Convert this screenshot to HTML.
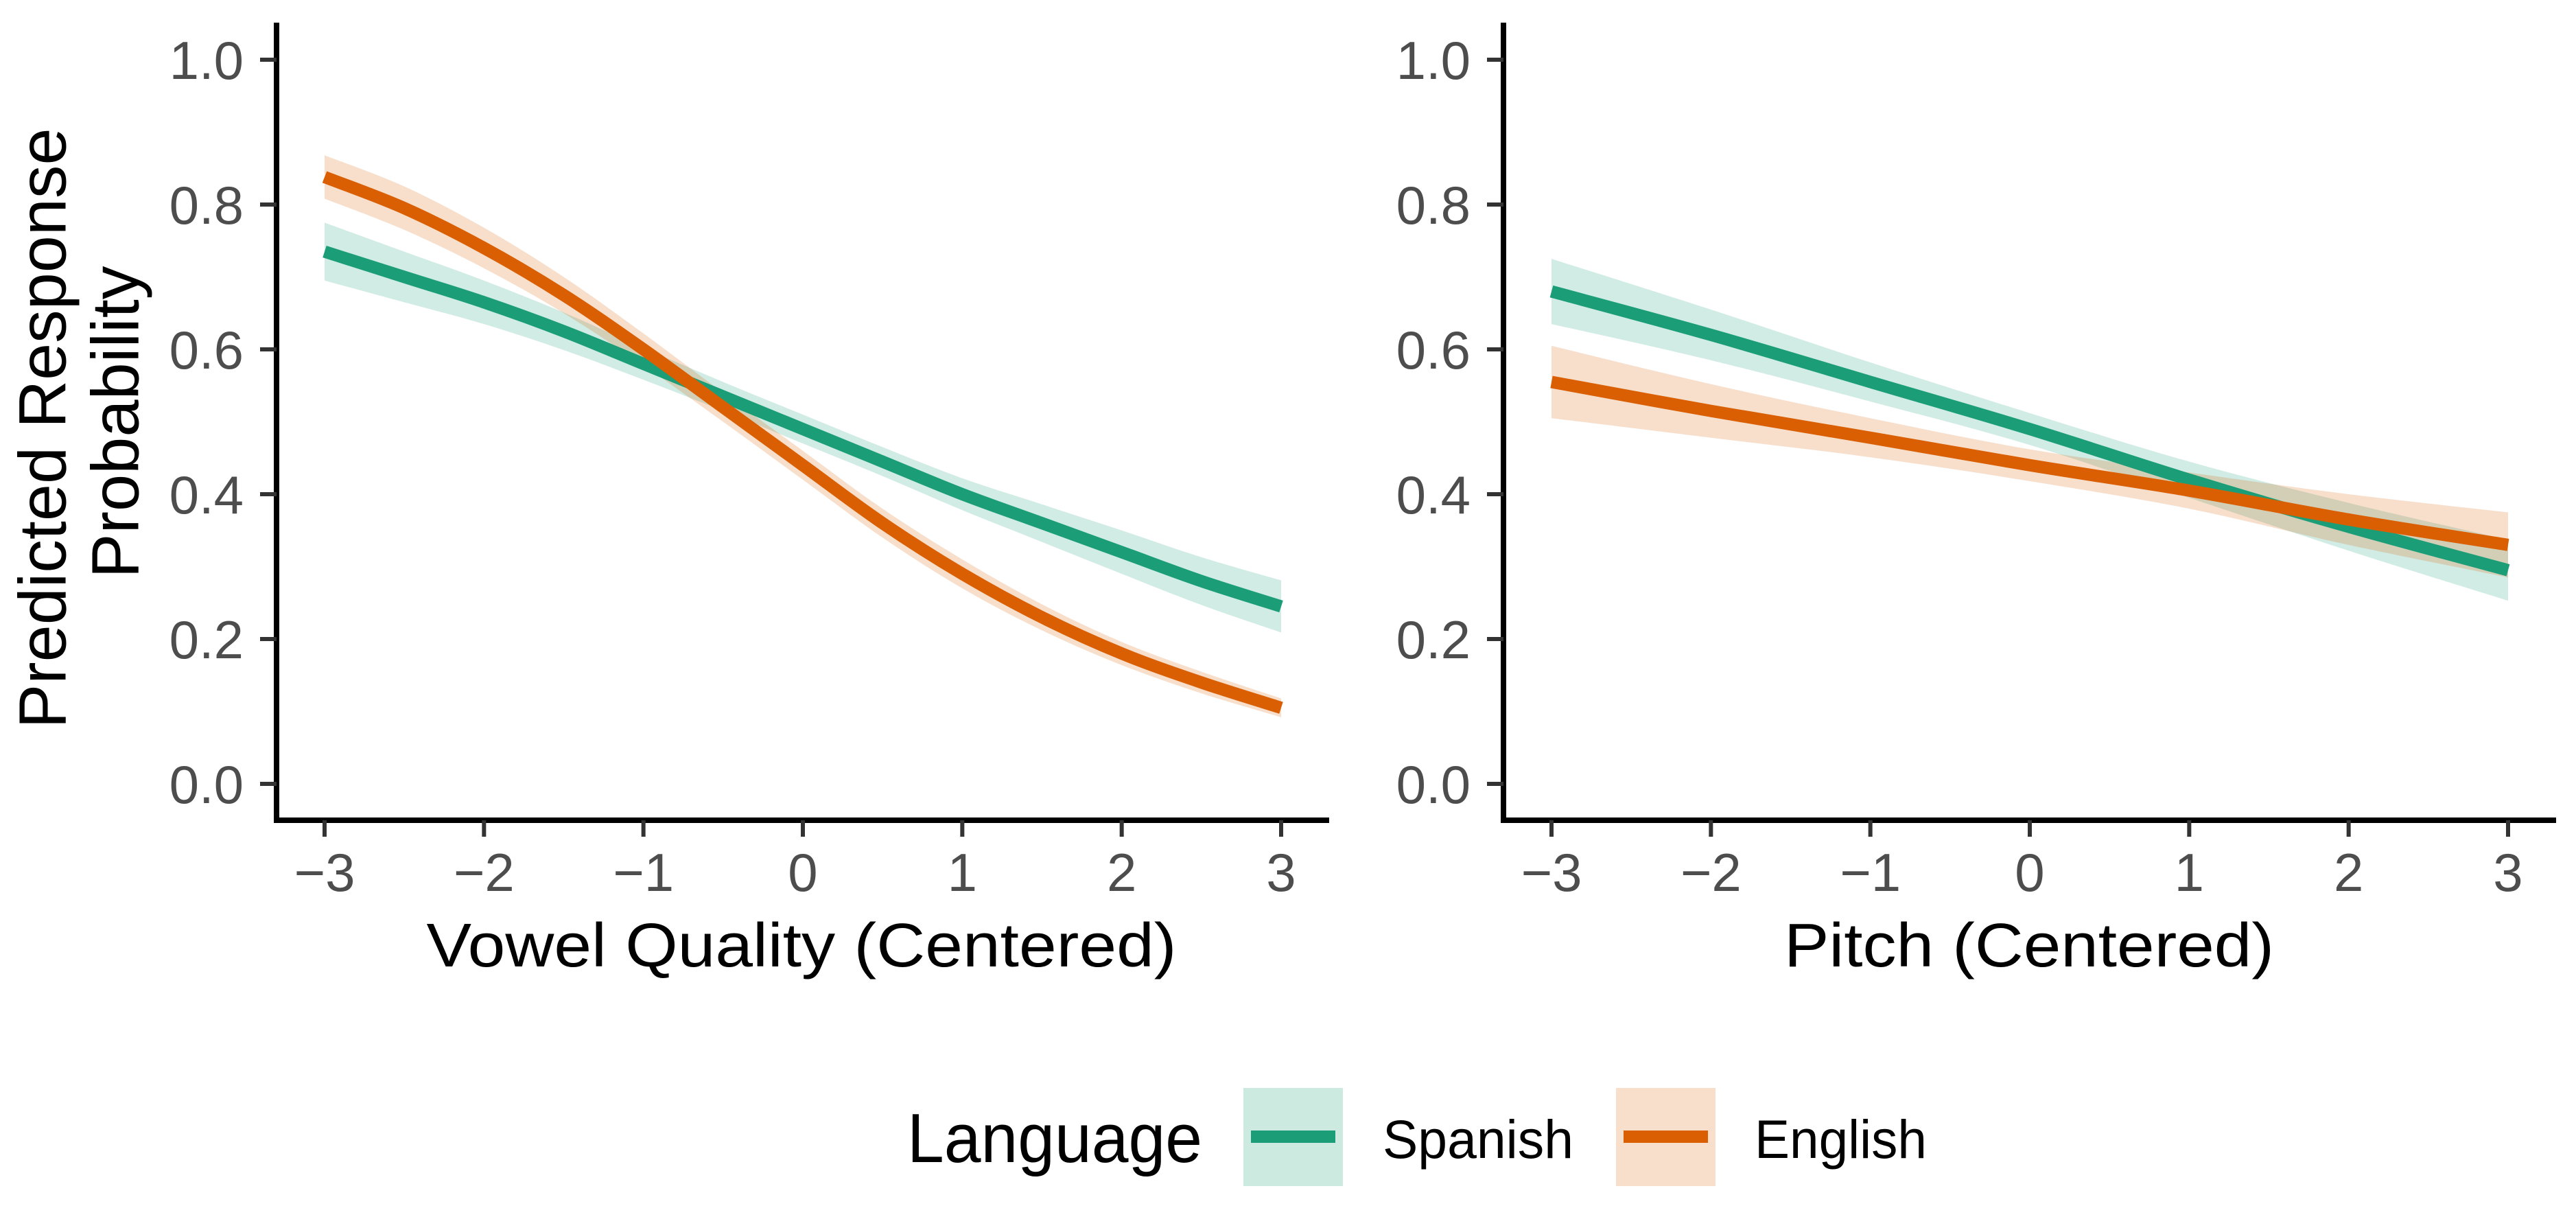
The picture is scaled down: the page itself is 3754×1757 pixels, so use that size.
<!DOCTYPE html>
<html><head><meta charset="utf-8"><style>
html,body{margin:0;padding:0;background:#fff}
svg{display:block}
text{font-family:"Liberation Sans",sans-serif}
</style></head><body>
<svg id="chart" width="3754" height="1757" viewBox="0 0 3754 1757" xmlns="http://www.w3.org/2000/svg">
<g id="plots"></g>
<g>
<text x="62" y="624" font-size="97" text-anchor="middle" dominant-baseline="central" textLength="875" lengthAdjust="spacingAndGlyphs" transform="rotate(-90 62 624)">Predicted Response</text>
<text x="168" y="615" font-size="97" text-anchor="middle" dominant-baseline="central" textLength="455" lengthAdjust="spacingAndGlyphs" transform="rotate(-90 168 615)">Probability</text>
</g>
<g>
<text x="1322" y="1693" font-size="101" textLength="430" lengthAdjust="spacingAndGlyphs">Language</text>
<g>
<rect x="1812" y="1585" width="145" height="143" fill="#1b9e77" fill-opacity="0.22"/>
<line x1="1823" y1="1656" x2="1946" y2="1656" stroke="#1b9e77" stroke-width="18"/>
<text x="2015" y="1687" font-size="79" textLength="278" lengthAdjust="spacingAndGlyphs">Spanish</text>
</g>
<g>
<rect x="2355" y="1585" width="145" height="143" fill="#d95f02" fill-opacity="0.2"/>
<line x1="2366" y1="1656" x2="2489" y2="1656" stroke="#d95f02" stroke-width="18"/>
<text x="2557" y="1687" font-size="79" textLength="251" lengthAdjust="spacingAndGlyphs">English</text>
</g>
</g>
</svg>
<script>
// Left panel data (x at half steps)
const xLeft = [-3,-2.5,-2,-1.5,-1,-0.5,0,0.5,1,1.5,2,2.5,3];
const spanishLeft = [0.735,0.70,0.665,0.625,0.58,0.535,0.49,0.445,0.40,0.36,0.32,0.28,0.245];
const spanishLeftHW = [0.04,0.035,0.03,0.026,0.022,0.02,0.02,0.02,0.022,0.026,0.03,0.033,0.036];
const englishLeft = [0.838,0.795,0.74,0.675,0.60,0.52,0.44,0.36,0.29,0.23,0.18,0.14,0.105];
const englishLeftHW = [0.03,0.03,0.028,0.025,0.022,0.02,0.02,0.02,0.02,0.018,0.016,0.015,0.013];
// Right panel data
const xRight = [-3,-2,-1,0,1,2,3];
const spanishRight = [0.68,0.62,0.555,0.49,0.42,0.355,0.295];
const spanishRightHW = [0.045,0.035,0.027,0.022,0.025,0.033,0.042];
const englishRight = [0.555,0.515,0.478,0.44,0.405,0.365,0.33];
const englishRightHW = [0.05,0.037,0.027,0.022,0.025,0.035,0.045];
const xTicks = [-3,-2,-1,0,1,2,3];
const xTickLabels = ["\u22123","\u22122","\u22121","0","1","2","3"];
const yTicks = [0,0.2,0.4,0.6,0.8,1.0];
const yTickLabels = ["0.0","0.2","0.4","0.6","0.8","1.0"];

const NS = "http://www.w3.org/2000/svg";
const root = document.getElementById('plots');
const GREEN = "#1b9e77", ORANGE = "#d95f02";
function mk(tag, attrs, parent){const e=document.createElementNS(NS,tag);for(const k in attrs)e.setAttribute(k,attrs[k]);parent.appendChild(e);return e;}

function smoothPath(pts){
  let d = "M"+pts[0][0]+","+pts[0][1];
  for(let i=0;i<pts.length-1;i++){
    const p0=pts[Math.max(0,i-1)],p1=pts[i],p2=pts[i+1],p3=pts[Math.min(pts.length-1,i+2)];
    const c1=[p1[0]+(p2[0]-p0[0])/6,p1[1]+(p2[1]-p0[1])/6];
    const c2=[p2[0]-(p3[0]-p1[0])/6,p2[1]-(p3[1]-p1[1])/6];
    d+=" C"+c1[0]+","+c1[1]+" "+c2[0]+","+c2[1]+" "+p2[0]+","+p2[1];
  }
  return d;
}

function panel(name, axisX, x0px, title, xs, series){
  const g = mk('g',{},root);
  
  
  const X = v => x0px + (v+3)*(1394/6);
  const Y = v => 1142 - v*1055;
  series.forEach(s=>{
    const up = xs.map((x,i)=>[X(x),Y(s.vals[i]+s.hw[i])]);
    const lo = xs.map((x,i)=>[X(x),Y(s.vals[i]-s.hw[i])]).reverse();
    const lp = smoothPath(lo);
    const d = smoothPath(up) + " L" + lo[0][0]+","+lo[0][1] + lp.slice(lp.indexOf(" C")) + " Z";
    const b = mk('path',{d:d,fill:s.color,'fill-opacity':0.2,stroke:'none'},g);
    
    
  });
  series.forEach(s=>{
    const pts = xs.map((x,i)=>[X(x),Y(s.vals[i])]);
    const l = mk('path',{d:smoothPath(pts),fill:'none',stroke:s.color,'stroke-width':18},g);
    
    
  });
  const ax = mk('path',{d:`M${axisX},33 L${axisX},1195 L${X(3)+70},1195`,fill:'none',stroke:'#000','stroke-width':8},g);
  
  
  yTicks.forEach((t,i)=>{
    mk('line',{x1:axisX-24,x2:axisX,y1:Y(t),y2:Y(t),stroke:'#333','stroke-width':6},g);
    const tx = mk('text',{x:axisX-48,y:Y(t)+28,'font-size':78,fill:'#4d4d4d','text-anchor':'end'},g);
    tx.textContent = yTickLabels[i];
    
    
  });
  xTicks.forEach((t,i)=>{
    mk('line',{x1:X(t),x2:X(t),y1:1195,y2:1219,stroke:'#333','stroke-width':6},g);
    const tx = mk('text',{x:X(t),y:1298,'font-size':78,fill:'#4d4d4d','text-anchor':'middle'},g);
    tx.textContent = xTickLabels[i];
    
    
  });
  const tt = mk('text',{x:title.cx,y:1408,'font-size':90,fill:'#000','text-anchor':'middle',textLength:title.w,lengthAdjust:'spacingAndGlyphs'},g);
  tt.textContent = title.text;
  
  
}

panel('vowel-quality-panel', 403, 473, {text:'Vowel Quality (Centered)',cx:1168,w:1093}, xLeft, [
  {key:'spanish',color:GREEN,vals:spanishLeft,hw:spanishLeftHW},
  {key:'english',color:ORANGE,vals:englishLeft,hw:englishLeftHW}
]);
panel('pitch-panel', 2191, 2261, {text:'Pitch (Centered)',cx:2957,w:714}, xRight, [
  {key:'spanish',color:GREEN,vals:spanishRight,hw:spanishRightHW},
  {key:'english',color:ORANGE,vals:englishRight,hw:englishRightHW}
]);
</script>
</body></html>
